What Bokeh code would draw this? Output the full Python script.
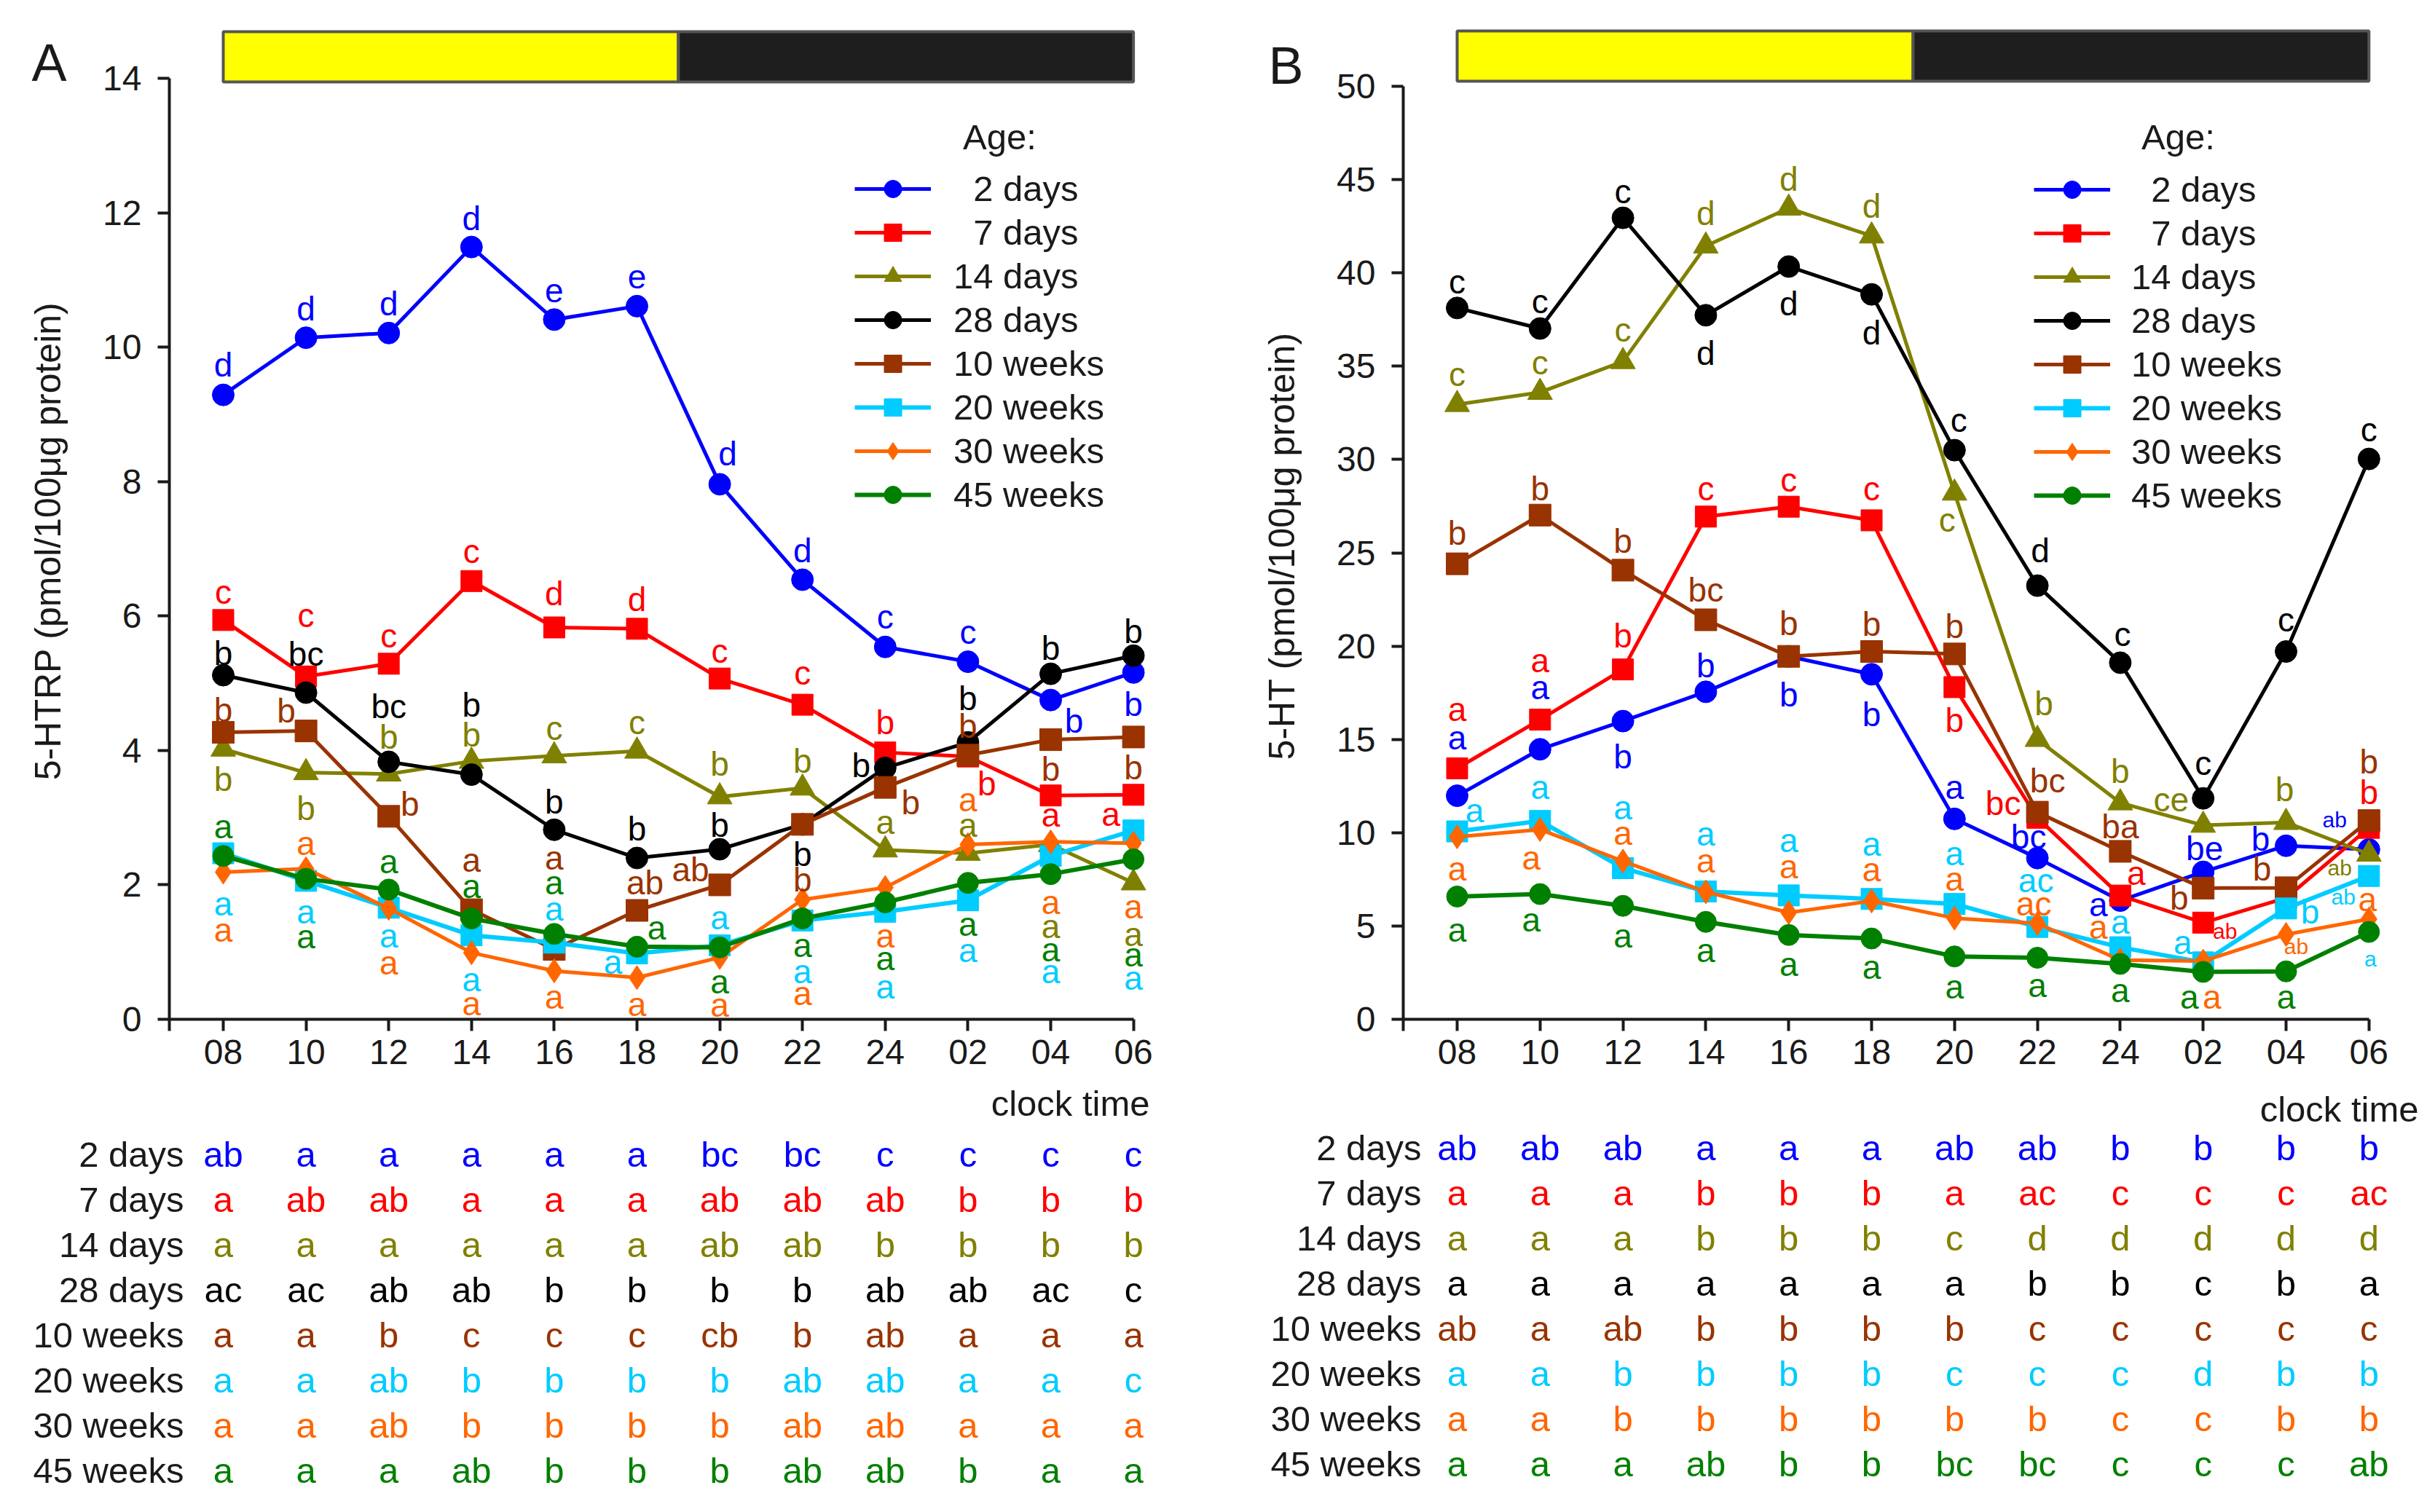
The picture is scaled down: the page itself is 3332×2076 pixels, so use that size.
from bokeh.plotting import figure
from bokeh.models import (ColumnDataSource, Range1d, FixedTicker, CustomJSTickFormatter,
                          Legend, LegendItem, LinearAxis)
from bokeh.layouts import row, column
from bokeh.core.properties import value, field
from bokeh.embed import file_html
from bokeh.resources import INLINE

# ---------------------------------------------------------------- data
TIMES = ["08", "10", "12", "14", "16", "18", "20", "22", "24", "02", "04", "06"]
SERIES = ["2 days", "7 days", "14 days", "28 days", "10 weeks", "20 weeks", "30 weeks", "45 weeks"]

HTRP_2D = [9.29, 10.14, 10.21, 11.49, 10.41, 10.61, 7.96, 6.54, 5.54, 5.32, 4.75, 5.16]
HTRP_7D = [5.94, 5.10, 5.29, 6.52, 5.83, 5.81, 5.07, 4.68, 3.97, 3.91, 3.33, 3.34]
HTRP_14D = [4.02, 3.67, 3.65, 3.84, 3.92, 3.99, 3.31, 3.44, 2.52, 2.47, 2.60, 2.03]
HTRP_28D = [5.12, 4.86, 3.83, 3.64, 2.82, 2.40, 2.53, 2.90, 3.74, 4.12, 5.14, 5.41]
HTRP_10W = [4.27, 4.29, 3.02, 1.63, 1.04, 1.62, 2.00, 2.90, 3.45, 3.93, 4.16, 4.20]
HTRP_20W = [2.47, 2.06, 1.66, 1.25, 1.14, 0.98, 1.10, 1.47, 1.60, 1.77, 2.43, 2.81]
HTRP_30W = [2.19, 2.24, 1.65, 0.99, 0.72, 0.62, 0.92, 1.78, 1.96, 2.60, 2.64, 2.62]
HTRP_45W = [2.43, 2.09, 1.93, 1.50, 1.27, 1.08, 1.07, 1.50, 1.74, 2.03, 2.16, 2.38]

HT_2D = [11.98, 14.47, 15.98, 17.55, 19.45, 18.49, 10.74, 8.64, 6.36, 7.90, 9.30, 9.10]
HT_7D = [13.45, 16.06, 18.75, 26.94, 27.47, 26.74, 17.80, 10.80, 6.63, 5.18, 6.50, 10.26]
HT_14D = [32.95, 33.60, 35.25, 41.44, 43.47, 41.98, 28.20, 15.00, 11.60, 10.40, 10.55, 8.85]
HT_28D = [38.12, 37.02, 42.95, 37.73, 40.34, 38.85, 30.50, 23.24, 19.11, 11.84, 19.71, 30.03]
HT_10W = [24.41, 27.02, 24.07, 21.41, 19.45, 19.71, 19.58, 11.10, 9.00, 7.03, 7.05, 10.65]
HT_20W = [10.07, 10.63, 8.10, 6.85, 6.64, 6.45, 6.18, 4.95, 3.86, 3.05, 5.94, 7.68]
HT_30W = [9.78, 10.17, 8.48, 6.83, 5.72, 6.34, 5.42, 5.14, 3.17, 3.12, 4.55, 5.37]
HT_45W = [6.58, 6.71, 6.08, 5.22, 4.52, 4.33, 3.37, 3.30, 2.97, 2.54, 2.57, 4.68]

HTRP = dict(zip(SERIES, [HTRP_2D, HTRP_7D, HTRP_14D, HTRP_28D, HTRP_10W, HTRP_20W, HTRP_30W, HTRP_45W]))
HT = dict(zip(SERIES, [HT_2D, HT_7D, HT_14D, HT_28D, HT_10W, HT_20W, HT_30W, HT_45W]))

# light / dark phases (clock hours; 30 = 06 next day)
LIGHT_ON, LIGHT_OFF, RECORD_END = 8, 19, 30

# significance letters next to the points
LET_A = {
    "2 days": "d d d d e e d d c c b b".split(),
    "7 days": "c c c c d d c c b b a a".split(),
    "14 days": "b b b b c c b b a a a a".split(),
    "28 days": "b bc bc b b b b b b b b b".split(),
    "10 weeks": "b b b a a ab ab b b b b b".split(),
    "20 weeks": ["a"] * 12,
    "30 weeks": ["a"] * 12,
    "45 weeks": ["a"] * 12,
}
LET_B = {
    "2 days": "a a b b b b a bc a be b ab".split(),
    "7 days": ["a", "a", "b", "c", "c", "c", "b", "bc", "a", "ab", "", "b"],
    "14 days": "c c c d d d c b b ce b ab".split(),
    "28 days": "c c c d d d c d c c c c".split(),
    "10 weeks": "b b b bc b b b bc ba b b b".split(),
    "20 weeks": "a a a a a a a ac a a b ab".split(),
    "30 weeks": "a a a a a a a ac a a ab a".split(),
    "45 weeks": ["a"] * 11 + [""],
}
EXTRA_LET_B = [("20 weeks", 11, "a")]

# letters of the tables below the plots
TAB_A = {
    "2 days": "ab a a a a a bc bc c c c c".split(),
    "7 days": "a ab ab a a a ab ab ab b b b".split(),
    "14 days": "a a a a a a ab ab b b b b".split(),
    "28 days": "ac ac ab ab b b b b ab ab ac c".split(),
    "10 weeks": "a a b c c c cb b ab a a a".split(),
    "20 weeks": "a a ab b b b b ab ab a a c".split(),
    "30 weeks": "a a ab b b b b ab ab a a a".split(),
    "45 weeks": "a a a ab b b b ab ab b a a".split(),
}
TAB_B = {
    "2 days": "ab ab ab a a a ab ab b b b b".split(),
    "7 days": "a a a b b b a ac c c c ac".split(),
    "14 days": "a a a b b b c d d d d d".split(),
    "28 days": "a a a a a a a b b c b a".split(),
    "10 weeks": "ab a ab b b b b c c c c c".split(),
    "20 weeks": "a a b b b b c c c d b b".split(),
    "30 weeks": "a a b b b b b b c c b b".split(),
    "45 weeks": "a a a ab b b bc bc c c c ab".split(),
}

# ---------------------------------------------------------------- styles
FONT = "Liberation Sans"
INK = "#1a1a1a"
COLORS = ["#0000FF", "#FF0000", "#808000", "#000000", "#993300", "#00CCFF", "#FF6600", "#008000"]
MARKERS = ["circle", "square", "triangle", "circle", "square", "square", "diamond", "circle"]
MSIZE = [30, 29, 34, 30, 30, 29, 33, 29]
LWIDTH = [5, 5, 5, 5, 5, 6, 5, 6]
LEG_PAD = {"2 days": 2, "7 days": 2}
ANN_FS, SMALL_FS, TXT_FS = "46px", "30px", "49px"
ANN_SHIFT = -13  # baseline correction of the letter labels (px)

# label offsets in screen pixels (dx, dy; dy > 0 is downward)
OFF_A = {
    "2 days": [(0, -28), (0, -27), (0, -27), (0, -26), (0, -27), (0, -27), (11, -29), (0, -27), (0, -28), (0, -28), (32, 42), (0, 57)],
    "7 days": [(0, -25), (0, -71), (0, -25), (0, -28), (0, -33), (0, -27), (0, -25), (0, -31), (0, -28), (26, 50), (0, 40), (-31, 40)],
    "14 days": [(0, 54), (0, 62), (0, -38), (0, -23), (0, -25), (0, -26), (0, -32), (0, -24), (0, -25), (0, -26), (0, 125), (0, 84)],
    "28 days": [(0, -17), (0, -40), (0, -63), (0, -83), (0, -25), (0, -27), (0, -20), (0, 54), (-33, 10), (0, -47), (0, -22), (0, -20)],
    "10 weeks": [(0, -17), (-27, -15), (29, -4), (0, -55), (0, -113), (11, -25), (-40, -8), (0, 89), (35, 34), (0, -27), (0, 53), (0, 55)],
    "20 weeks": [(0, 82), (0, 56), (0, 52), (0, 74), (0, -33), (-33, 25), (0, -25), (0, 83), (0, 116), (0, 82), (0, 172), (0, 216)],
    "30 weeks": [(0, 93), (0, -22), (0, 88), (0, 83), (0, 49), (0, 50), (0, 78), (0, 142), (0, 79), (0, -49), (0, 96), (0, 100)],
    "45 weeks": [(0, -27), (0, 92), (0, -25), (0, -31), (0, -57), (27, -13), (0, 60), (0, 50), (0, 90), (0, 70), (0, 117), (0, 144)],
}
OFF_B = {
    "2 days": [(0, -67), (0, -72), (0, 62), (0, -23), (0, 66), (0, 68), (0, -30), (-12, -16), (-30, 18), (2, -19), (-35, 4), (-47, -28)],
    "7 days": [(0, -68), (0, -68), (0, -33), (0, -25), (0, -24), (0, -30), (0, 59), (-47, -7), (22, -18), (30, 25), (0, 0), (0, -36)],
    "14 days": [(0, -28), (0, -28), (0, -30), (0, -32), (0, -27), (0, -28), (-10, 50), (9, -36), (0, -30), (-44, -22), (-2, -32), (-40, 32)],
    "28 days": [(0, -23), (0, -24), (0, -23), (0, 65), (0, 64), (0, 66), (6, -28), (4, -35), (3, -26), (0, -35), (0, -31), (0, -27)],
    "10 weeks": [(0, -29), (0, -23), (0, -27), (0, -28), (0, -32), (0, -25), (0, -25), (14, -30), (0, -21), (-33, 27), (-33, -13), (0, -68)],
    "20 weeks": [(24, -16), (0, -33), (0, -70), (0, -66), (0, -62), (0, -62), (0, -56), (-2, -51), (0, -22), (-28, -14), (33, 18), (-35, 42)],
    "30 weeks": [(0, 57), (-12, 52), (0, -25), (0, -30), (0, -50), (0, -30), (0, -41), (-5, -14), (-30, -32), (12, 62), (14, 30), (-2, -14)],
    "45 weeks": [(0, 59), (-12, 48), (0, 54), (0, 52), (0, 53), (0, 52), (0, 55), (0, 51), (0, 50), (-19, 48), (0, 48), (0, 0)],
}
EXTRA_OFF_B = [(2, 127)]
SMALL_B = {("2 days", 11), ("7 days", 9), ("14 days", 11), ("20 weeks", 11), ("30 weeks", 10)}

# panel geometry (window pixels; the page starts at 0,0)
GEO_A = dict(left=0, width=1660, axis_x=232, x08=306, step=113.6, frame_right=1600,
             top_px=107, zero_px=1399, ymax=14, ystep=2, frame_top=30, plot_bottom=1483,
             page_bottom=2072, row0=1584, row_step=62, rowlab_right=252,
             clock_right=1578, clock_y=1514, tag="A", tag_y=85, tag_standoff=-56,
             leg_left=1173, leg_top=229, leg_standoff=31, age_x=1372, age_y=187,
             bar_top=43, bar_bottom=112, ylabel="5-HTRP (pmol/100\u03bcg protein)", ylabel_pad=4)
GEO_B = dict(left=1660, width=1670, axis_x=1926, x08=2000, step=113.8, frame_right=3305,
             top_px=118, zero_px=1399, ymax=50, ystep=5, frame_top=30, plot_bottom=1483,
             page_bottom=2072, row0=1575, row_step=62, rowlab_right=1951,
             clock_right=3320, clock_y=1522, tag="B", tag_y=89, tag_standoff=-60,
             leg_left=2792, leg_top=230, leg_standoff=29, age_x=2990, age_y=187,
             bar_top=42, bar_bottom=111, ylabel="5-HT (pmol/100\u03bcg protein)", ylabel_pad=5)


def mkfig(**kw):
    try:
        return figure(frame_align=False, **kw)
    except Exception:
        return figure(**kw)


def style_axis(ax, standoff):
    ax.axis_line_color = INK
    ax.axis_line_width = 4
    ax.major_tick_line_color = INK
    ax.major_tick_line_width = 4
    ax.major_tick_out = 16
    ax.major_tick_in = 0
    ax.minor_tick_line_color = None
    ax.major_label_text_font = FONT
    ax.major_label_text_font_size = "48px"
    ax.major_label_text_color = INK
    ax.major_label_standoff = standoff


def make_panel(g, data, letters, offsets, table, extra_let=(), extra_off=(), small=()):
    ppx = g["step"]
    ppy = (g["zero_px"] - g["top_px"]) / g["ymax"]

    def X(px):
        return (px - g["x08"]) / ppx

    def Y(py):
        return (g["zero_px"] - py) / ppy

    x_start = X(g["axis_x"])
    p = mkfig(width=g["width"], height=g["plot_bottom"],
              x_range=Range1d(x_start, X(g["frame_right"])),
              y_range=Range1d(0, Y(g["frame_top"])),
              output_backend="svg", toolbar_location=None,
              min_border_left=g["axis_x"] - g["left"],
              min_border_right=g["left"] + g["width"] - g["frame_right"],
              min_border_top=g["frame_top"],
              min_border_bottom=g["plot_bottom"] - g["zero_px"])
    p.grid.visible = False
    p.outline_line_color = None
    p.background_fill_color = "white"
    p.border_fill_color = "white"

    xa = p.xaxis[0]
    xa.ticker = FixedTicker(ticks=[x_start] + list(range(len(TIMES))))
    xa.formatter = CustomJSTickFormatter(args=dict(labels=TIMES), code="""
        const i = Math.round(tick);
        return (Math.abs(tick - i) < 1e-6 && i >= 0 && i < labels.length) ? labels[i] : "";
    """)
    xa.bounds = (x_start, len(TIMES) - 1)
    style_axis(xa, 12)

    ya = p.yaxis[0]
    ya.ticker = FixedTicker(ticks=list(range(0, g["ymax"] + 1, g["ystep"])))
    ya.bounds = (0, g["ymax"])
    ya.axis_label = g["ylabel"] + "\u00a0" * g["ylabel_pad"]
    ya.axis_label_text_font = FONT
    ya.axis_label_text_font_size = "50px"
    ya.axis_label_text_font_style = "normal"
    ya.axis_label_text_color = INK
    ya.axis_label_standoff = 44
    style_axis(ya, 22)

    # panel letter, drawn as the single tick label of an outer left axis
    ty = Y(g["tag_y"])
    tag_axis = LinearAxis(
        ticker=FixedTicker(ticks=[ty]),
        formatter=CustomJSTickFormatter(args=dict(tag=g["tag"]), code="return tag;"),
        bounds=(Y(g["tag_y"] + 20), Y(g["tag_y"] - 20)),
        axis_line_color=None, major_tick_line_color=None, minor_tick_line_color=None,
        major_tick_out=0, major_tick_in=0, major_label_standoff=g["tag_standoff"],
        major_label_text_font=FONT, major_label_text_font_size="72px",
        major_label_text_color=INK)
    p.add_layout(tag_axis, "left")

    # light / dark bar
    bar = ColumnDataSource(dict(
        left=[(LIGHT_ON - 8) / 2, (LIGHT_OFF - 8) / 2],
        right=[(LIGHT_OFF - 8) / 2, (RECORD_END - 8) / 2],
        color=["#FFFF00", "#1E1E1E"]))
    p.quad(left="left", right="right", bottom=Y(g["bar_bottom"]), top=Y(g["bar_top"]),
           fill_color="color", line_color="#555555", line_width=4, source=bar)

    items = []
    for k, name in enumerate(SERIES):
        src = ColumnDataSource(dict(x=list(range(len(TIMES))), y=data[name]))
        rl = p.line("x", "y", source=src, line_color=COLORS[k], line_width=LWIDTH[k])
        rm = p.scatter("x", "y", source=src, marker=MARKERS[k], size=MSIZE[k],
                       fill_color=COLORS[k], line_color=COLORS[k], line_width=1)
        items.append(LegendItem(label="\u00a0" * LEG_PAD.get(name, 0) + name, renderers=[rl, rm]))

    # significance letters
    cols = dict(x=[], y=[], text=[], dx=[], dy=[], color=[], fs=[])

    def add(name, i, t, off):
        if not t:
            return
        cols["x"].append(i)
        cols["y"].append(data[name][i])
        cols["text"].append(t)
        cols["dx"].append(off[0])
        cols["dy"].append(off[1] + ANN_SHIFT)
        cols["color"].append(COLORS[SERIES.index(name)])
        cols["fs"].append(SMALL_FS if (name, i) in small else ANN_FS)

    for name in SERIES:
        for i in range(len(TIMES)):
            add(name, i, letters[name][i], offsets[name][i])
    for (name, i, t), off in zip(extra_let, extra_off):
        add(name, i, t, off)
    p.text("x", "y", text="text", x_offset="dx", y_offset="dy", text_color="color",
           text_font_size=field("fs"), text_font=value(FONT), text_align="center",
           text_baseline="alphabetic", source=ColumnDataSource(cols))

    leg_h = 60
    leg = Legend(items=items,
                 location=(g["leg_left"] - g["axis_x"], g["zero_px"] - (g["leg_top"] + leg_h * len(SERIES))),
                 glyph_width=105, glyph_height=leg_h, spacing=0, padding=0, margin=0,
                 label_standoff=g["leg_standoff"], label_text_font=FONT, label_text_font_size=TXT_FS,
                 label_text_color=INK, border_line_color=None, background_fill_alpha=0)
    p.add_layout(leg)
    p.text(x=[X(g["age_x"])], y=[Y(g["age_y"])], text=["Age:"], text_font=value(FONT),
           text_font_size=TXT_FS, text_color=INK, text_align="center", text_baseline="middle")

    # table below
    rs = g["row_step"]
    t = mkfig(width=g["width"], height=g["page_bottom"] - g["plot_bottom"],
              x_range=Range1d(X(g["left"]), X(g["left"] + g["width"])),
              y_range=Range1d(-(g["page_bottom"] - g["row0"]) / rs, (g["row0"] - g["plot_bottom"]) / rs),
              output_backend="svg", toolbar_location=None, min_border=0,
              min_border_left=0, min_border_right=0, min_border_top=0, min_border_bottom=0,
              x_axis_location=None, y_axis_location=None)
    t.grid.visible = False
    t.outline_line_color = None
    t.background_fill_color = "white"
    t.border_fill_color = "white"
    for r, name in enumerate(SERIES):
        t.text(x=list(range(len(TIMES))), y=[-r] * len(TIMES), text=table[name],
               text_color=COLORS[r], text_font=value(FONT), text_font_size=TXT_FS,
               text_align="center", text_baseline="middle")
    t.text(x=[X(g["rowlab_right"])] * len(SERIES), y=[-r for r in range(len(SERIES))], text=SERIES,
           text_color=INK, text_font=value(FONT), text_font_size=TXT_FS,
           text_align="right", text_baseline="middle")
    t.text(x=[X(g["clock_right"])], y=[(g["row0"] - g["clock_y"]) / rs], text=["clock time"],
           text_color=INK, text_font=value(FONT), text_font_size=TXT_FS,
           text_align="right", text_baseline="middle")
    return column(p, t)


panel_a = make_panel(GEO_A, HTRP, LET_A, OFF_A, TAB_A)
panel_b = make_panel(GEO_B, HT, LET_B, OFF_B, TAB_B, EXTRA_LET_B, EXTRA_OFF_B, SMALL_B)
layout = row(panel_a, panel_b)

open("out.html", "w").write(file_html(layout, INLINE, "5-HTRP and 5-HT"))
